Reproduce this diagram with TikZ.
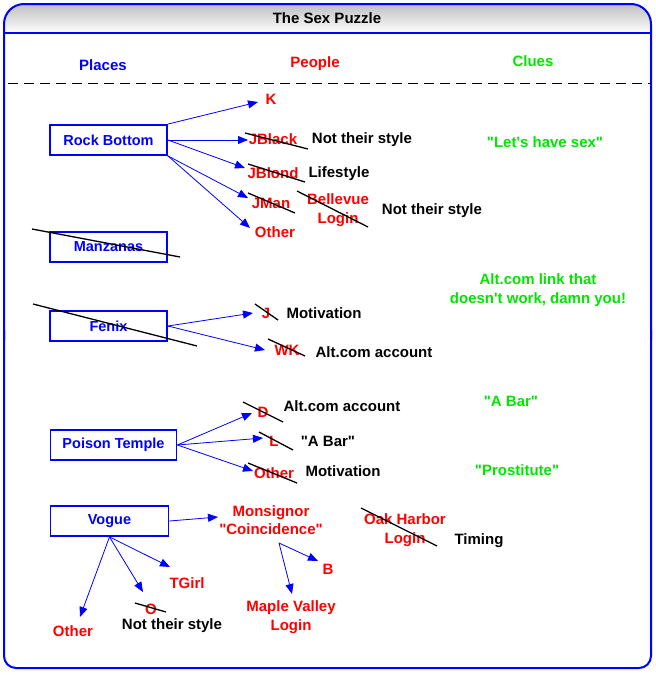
\documentclass[tikz,border=0pt]{standalone}
\usepackage{fontspec}
\setmainfont{Liberation Sans}[Ligatures=TeXOff]
\usetikzlibrary{arrows.meta}
\definecolor{pblue}{RGB}{0,0,255}
\definecolor{pred}{RGB}{255,0,0}
\definecolor{pgreen}{RGB}{0,230,0}
\begin{document}
\begin{tikzpicture}[x=1pt,y=-1pt,
 txt/.style={font=\fontsize{15}{18.5}\selectfont\bfseries, inner sep=0pt, align=center},
 hdr/.style={font=\fontsize{15}{18}\selectfont\bfseries, inner sep=0pt},
 place/.style={draw=pblue, line width=1.8pt, text=pblue, font=\fontsize{14.5}{18}\selectfont\bfseries, minimum height=30pt, inner sep=0pt},
 person/.style={txt, text=pred},
 clue/.style={txt, text=pgreen},
 note/.style={txt, text=black},
 arr/.style={pblue, line width=0.8pt, -{Triangle[length=10pt,width=8pt]}},
 strike/.style={black, line width=1.3pt}]
\useasboundingbox (0,0) rectangle (656,675);
% title bar
\fill[rounded corners=20pt, top color=gray!50, bottom color=white] (4,33) -- (4,4) -- (651,4) -- (651,33);
\draw[pblue, line width=2pt, rounded corners=20pt] (4,340) -- (4,4) -- (651,4) -- (651,340);
\draw[pblue, line width=2pt, rounded corners=12pt] (4,330) -- (4,668) -- (651,668) -- (651,330);
\draw[pblue, line width=2pt] (4,33) -- (651,33);
\node[hdr] (title) at (327,18) {The Sex Puzzle};
% headers
\node[hdr, text=pblue] (hplaces) at (103,65) {Places};
\node[hdr, text=pred] (hpeople) at (315,64) {People};
\node[hdr, text=pgreen] (hclues) at (533,61) {Clues};
\draw[black, line width=1pt, dash pattern=on 10pt off 6pt] (8,83) -- (651,83);

% places
\node[place, minimum width=117pt] (rb) at (108.5,140) {Rock Bottom};
\node[place, minimum width=117pt] (mz) at (108.5,247) {Manzanas};
\node[place, minimum width=117pt] (fx) at (108.5,326) {Fenix};
\node[place, minimum width=126pt] (pt) at (113.5,445) {Poison Temple};
\node[place, minimum width=118pt] (vg) at (109.5,521) {Vogue};
\draw[strike] (32,229) -- (180,257);
\draw[strike] (33,304) -- (197,346);

% people
\node[person] (k) at (271,99) {K};
\node[person] (jblack) at (273,139) {JBlack};
\node[person] (jblond) at (273,173) {JBlond};
\node[person] (jman) at (271,203) {JMan};
\node[person] (other1) at (275,232) {Other};
\node[person] (bell) at (338,210) {Bellevue\\Login};
\node[person] (j) at (266,313) {J};
\node[person] (wk) at (287,350) {WK};
\node[person] (d) at (263,412) {D};
\node[person] (l) at (274,441) {L};
\node[person] (other2) at (274,473) {Other};
\node[person] (mon) at (271,520) {Monsignor\\"Coincidence"};
\node[person] (oak) at (405,530) {Oak Harbor\\Login};
\node[person] (b) at (328,569) {B};
\node[person] (tgirl) at (187,583) {TGirl};
\node[person] (o) at (151,609) {O};
\node[person] (other3) at (73,631) {Other};
\node[person] (maple) at (291,617) {Maple Valley\\Login};

% strike-outs
\draw[strike] (245,133) -- (308,149);
\draw[strike] (248,164) -- (305,182);
\draw[strike] (248,193) -- (295,213);
\draw[strike] (297,191) -- (368,227);
\draw[strike] (255,304) -- (278,320);
\draw[strike] (268,339) -- (305,356);
\draw[strike] (243,402) -- (283,422);
\draw[strike] (259,432) -- (293,450);
\draw[strike] (248,463) -- (297,483);
\draw[strike] (361,508) -- (437,546);
\draw[strike] (135,603) -- (166,612);

% notes
\node[note] (n1) at (362,140) {Not their style};
\node[note] (n2) at (339,174) {Lifestyle};
\node[note] (n3) at (432,211) {Not their style};
\node[note] (n4) at (324,313) {Motivation};
\node[note] (n5) at (374,352) {Alt.com account};
\node[note] (n6) at (342,406) {Alt.com account};
\node[note] (n7) at (328,441) {"A Bar"};
\node[note] (n8) at (343,471) {Motivation};
\node[note] (n9) at (479,541) {Timing};
\node[note] (n10) at (172,626) {Not their style};

% clues
\node[clue] (c1) at (545,142) {"Let's have sex"};
\node[clue] (c2) at (538,290) {Alt.com link that\\doesn't work, damn you!};
\node[clue] (c3) at (511,401) {"A Bar"};
\node[clue] (c4) at (517,470) {"Prostitute"};

% arrow tips
\coordinate (tk) at (258,102);
\coordinate (tjblack) at (248,140);
\coordinate (tjblond) at (245,168);
\coordinate (tjman) at (248,198);
\coordinate (tother1) at (250,228);
\coordinate (tj) at (253,313);
\coordinate (twk) at (265,350);
\coordinate (td) at (252,413);
\coordinate (tl) at (263,438);
\coordinate (tother2) at (253,471);
\coordinate (tmon) at (218,517);
\coordinate (tother3) at (80,617);
\coordinate (to) at (143,592);
\coordinate (ttgirl) at (170,567);
\coordinate (monfoot) at (279,543);
\coordinate (tb) at (318,561);
\coordinate (tmaple) at (292,594);

% arrows
\draw[arr] (rb.north east) -- (tk);
\draw[arr] (rb.east) -- (tjblack);
\draw[arr] (rb.east) -- (tjblond);
\draw[arr] (rb.south east) -- (tjman);
\draw[arr] (rb.south east) -- (tother1);
\draw[arr] (fx.east) -- (tj);
\draw[arr] (fx.east) -- (twk);
\draw[arr] (pt.east) -- (td);
\draw[arr] (pt.east) -- (tl);
\draw[arr] (pt.east) -- (tother2);
\draw[arr] (vg.east) -- (tmon);
\draw[arr] (vg.south) -- (tother3);
\draw[arr] (vg.south) -- (to);
\draw[arr] (vg.south) -- (ttgirl);
\draw[arr] (monfoot) -- (tb);
\draw[arr] (monfoot) -- (tmaple);
\end{tikzpicture}
\end{document}
